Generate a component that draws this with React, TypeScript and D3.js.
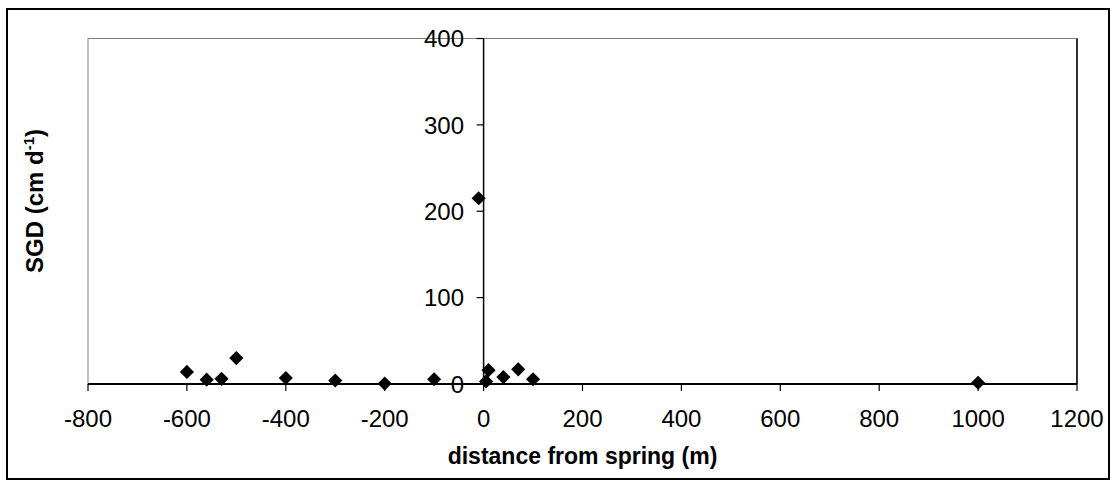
import React from "react";
import * as d3 from "d3";

const distance = [-600, -560, -530, -500, -400, -300, -200, -100, -10, 5, 10, 40, 70, 100, 1000];
const sgd = [14, 5, 6, 30, 7, 4, 0.5, 5.5, 215, 3, 16, 8, 17, 5.5, 1.5];
const xTicks = [-800, -600, -400, -200, 0, 200, 400, 600, 800, 1000, 1200];
const yTicks = [0, 100, 200, 300, 400];

const W = 1110;
const H = 480;
const left = 88;
const right = 1077;
const top = 38.5;
const bottom = 384;
const FONT = "Liberation Sans, Arial, sans-serif";

export default function App() {
  const x = d3.scaleLinear().domain([-800, 1200]).range([left, right]);
  const y = d3.scaleLinear().domain([0, 400]).range([bottom, top]);
  const sym = d3.symbol(d3.symbolSquare, 100)();
  const x0 = x(0);
  const pts = distance.map((d, i) => ({ d, v: sgd[i] }));
  return (
    <svg
      width={W}
      height={H}
      style={{ position: "absolute", left: 0, top: 0, background: "#fff" }}
      fontFamily={FONT}
    >
      <rect x={0} y={0} width={W} height={H} fill="#fff" />
      <rect x={7} y={9} width={W - 8} height={H - 10} fill="none" stroke="#000" strokeWidth={2} />
      <rect x={left} y={top} width={right - left} height={bottom - top} fill="none" stroke="#808080" strokeWidth={1} />
      <line x1={right} x2={right} y1={top} y2={bottom} stroke="#000" strokeWidth={1.5} />
      {/* x axis */}
      <line x1={left} x2={right} y1={bottom} y2={bottom} stroke="#000" strokeWidth={2} />
      {xTicks.map((t) => (
        <g key={"xt" + t}>
          <line x1={x(t)} x2={x(t)} y1={bottom} y2={bottom + 7} stroke="#000" strokeWidth={1.2} />
          <text x={x(t)} y={427} textAnchor="middle" fontSize={24} fill="#000">
            {t}
          </text>
        </g>
      ))}
      {/* y axis */}
      <line x1={x0} x2={x0} y1={top} y2={bottom} stroke="#000" strokeWidth={1.5} />
      {yTicks.map((t) => (
        <g key={"yt" + t}>
          <line x1={x0 - 7} x2={x0} y1={y(t)} y2={y(t)} stroke="#000" strokeWidth={1.2} />
          <text x={464} y={y(t)} dy="0.36em" textAnchor="end" fontSize={24} fill="#000">
            {t}
          </text>
        </g>
      ))}
      {/* points */}
      {pts.map((p, i) => (
        <path
          key={"p" + i}
          d={sym || ""}
          transform={`translate(${x(p.d)},${y(p.v)}) rotate(45)`}
          fill="#000"
        />
      ))}
      {/* titles */}
      <text x={(left + right) / 2} y={464} textAnchor="middle" fontSize={23} fontWeight="bold" fill="#000">
        distance from spring (m)
      </text>
      <text
        transform={`translate(43,273) rotate(-90)`}
        textAnchor="start"
        fontSize={24}
        fontWeight="bold"
        fill="#000"
      >
        SGD (cm d
        <tspan fontSize={15} dy={-9}>-1</tspan>
        <tspan dy={9}>)</tspan>
      </text>
    </svg>
  );
}
